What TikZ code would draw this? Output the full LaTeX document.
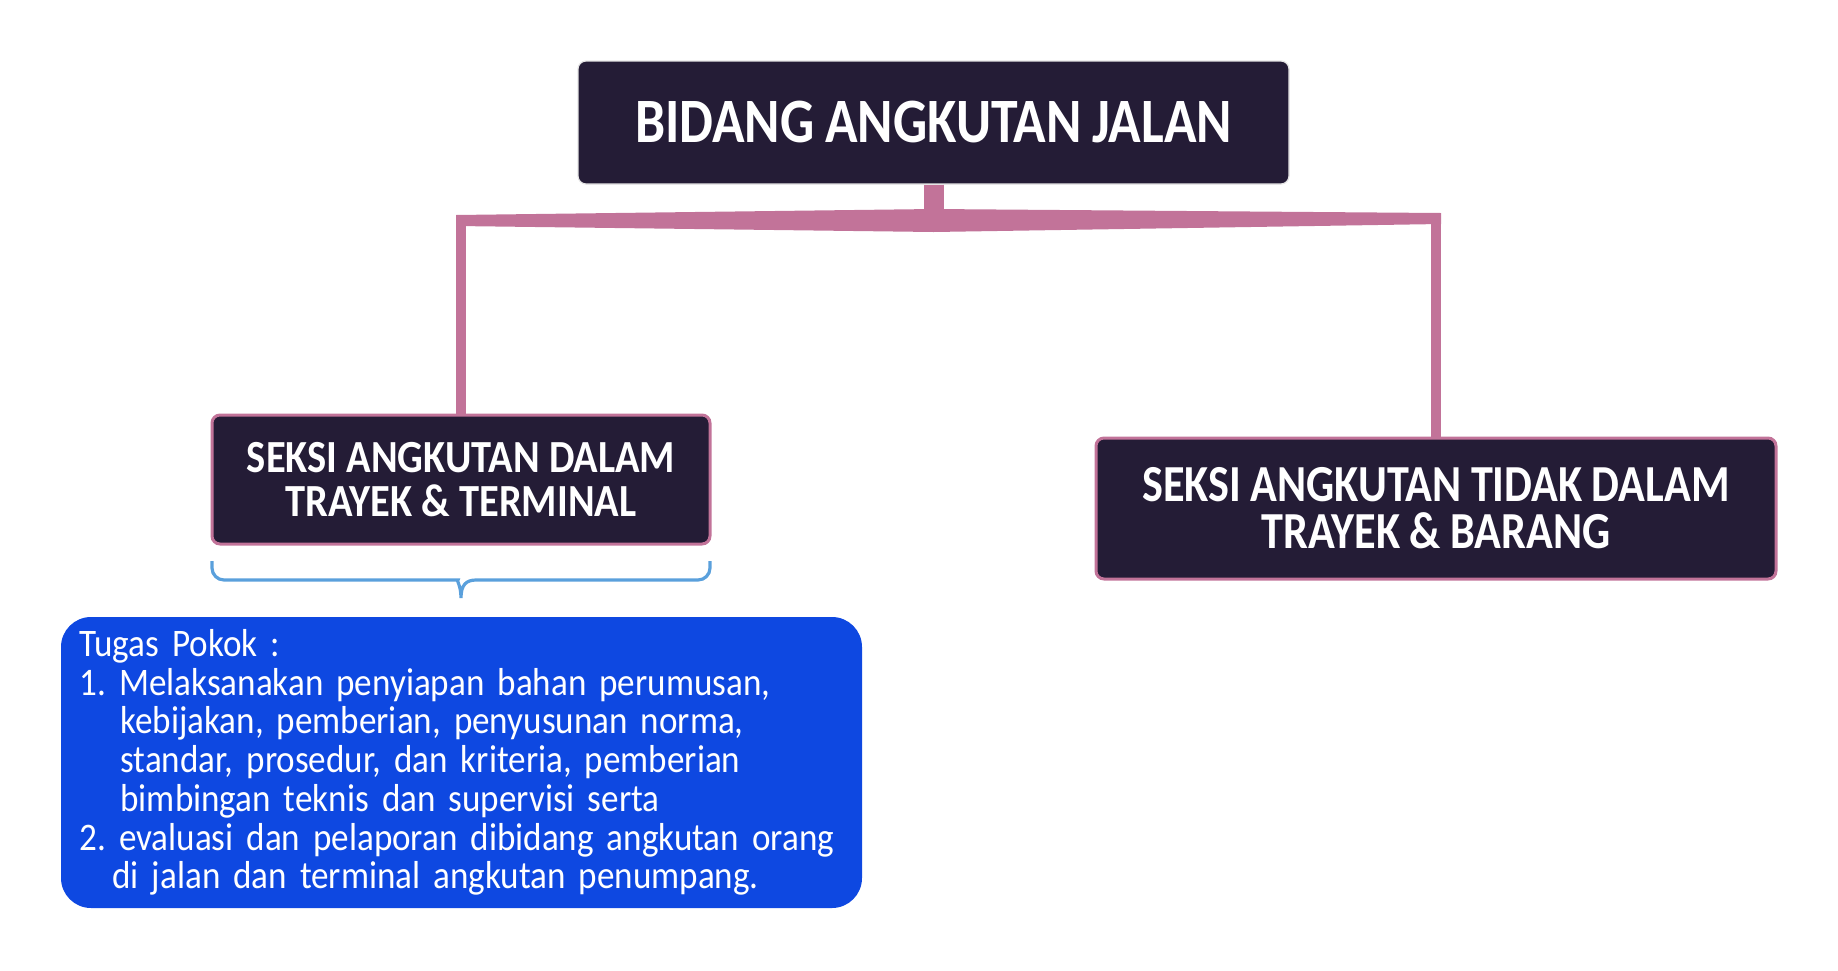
\documentclass[tikz,border=0pt]{standalone}
\usepackage{fontspec}
\setmainfont{Carlito}
\usepackage{tikz}

\definecolor{navy}{HTML}{241C36}
\definecolor{mauve}{HTML}{C27399}
\definecolor{royal}{HTML}{0E48E1}
\definecolor{skyline}{HTML}{5AA0DC}

\newcommand{\tightwords}[1]{\fontdimen2\font=#1em\relax}
\frenchspacing
\begin{document}
\begin{tikzpicture}[x=0.5pt,y=-0.5pt]
    \tikzstyle{headbox}=[rounded corners=4pt, fill=navy, draw=black!10, line width=0.6pt,
        text=white, align=center]
    \tikzstyle{seksibox}=[headbox, draw=mauve, line width=1.5pt]
    \tikzstyle{tugasbox}=[rounded corners=15pt, fill=royal, text=white, align=left,
        inner xsep=9pt, text width=382pt, minimum width=400.5pt, minimum height=145.5pt]
    \tikzstyle{link}=[mauve, line width=4.8pt]
    \tikzstyle{brace}=[skyline, line width=1.6pt]

    \useasboundingbox (0,0) rectangle (1838,970);

    \node[headbox, minimum width=355.5pt, minimum height=61.5pt,
          font={\bfseries\fontsize{31.6}{36}\selectfont\addfontfeature{FakeStretch=0.85}\tightwords{0.17}}]
          (bidang) at (933.5,122.5) {BIDANG ANGKUTAN JALAN};
    \node[seksibox, minimum width=249pt, minimum height=64.5pt,
          font={\bfseries\fontsize{23}{21.7}\selectfont\addfontfeature{FakeStretch=0.88}}]
          (dalam) at (461,479.5) {SEKSI ANGKUTAN DALAM\\TRAYEK \& TERMINAL};
    \node[seksibox, minimum width=340pt, minimum height=70.5pt,
          font={\bfseries\fontsize{26}{23.6}\selectfont\addfontfeature{FakeStretch=0.85}\tightwords{0.18}}]
          (tidakdalam) at (1436,508.5) {SEKSI ANGKUTAN TIDAK DALAM\\TRAYEK \& BARANG};
    \node[tugasbox, font={\fontsize{19.5}{19.35}\selectfont\addfontfeature{FakeStretch=0.9}\tightwords{0.19}}]
          (tugas) at (461.5,762.5) {Tugas Pokok :\\
          1. Melaksanakan penyiapan bahan perumusan,\\
          \hspace*{20.5pt}kebijakan, pemberian, penyusunan norma,\\
          \hspace*{20.5pt}standar, prosedur, dan kriteria, pemberian\\
          \hspace*{20.5pt}bimbingan teknis dan supervisi serta\\
          2. evaluasi dan pelaporan dibidang angkutan orang\\
          \hspace*{16.5pt}di jalan dan terminal angkutan penumpang.};

    % connectors
    \coordinate (hub) at (933.5,221);
    \fill[mauve] (456,215) -- (933.5,209) -- (1441,213) -- (1441,224)
        -- (933.5,232) -- (456,226) -- cycle;
    \draw[mauve, line width=10pt] (bidang.south) -- (hub);
    \draw[link] (hub -| dalam.north) -- (dalam.north);
    \draw[link] (hub -| tidakdalam.north) -- (tidakdalam.north);

    % brace
    \draw[brace] (212,561) [rounded corners=6pt] -- (212,580) -- (446,580) [sharp corners]
        .. controls (456,580) and (461,585) .. (461,598)
        .. controls (461,585) and (466,580) .. (476,580) [rounded corners=6pt]
        -- (710,580) -- (710,561);
\end{tikzpicture}
\end{document}
